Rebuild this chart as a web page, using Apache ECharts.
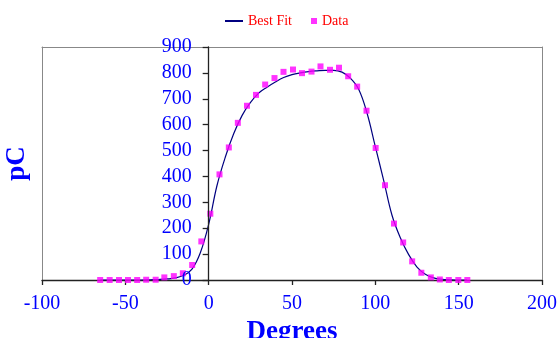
<!DOCTYPE html>
<html>
<head>
<meta charset="utf-8">
<script src="https://cdn.jsdelivr.net/npm/echarts@6/dist/echarts.min.js"></script>
<style>html,body{margin:0;padding:0;background:#fff}#c{width:558px;height:338px}</style>
</head>
<body>
<div id="c"></div>
<script>
// Data points (Degrees, pC)
var dataX = [-65.1,-59.4,-53.8,-48.4,-42.9,-37.5,-31.8,-26.6,-20.9,-15.5,-9.9,-4.4,1.0,6.5,12.1,17.5,23.0,28.4,33.9,39.5,44.9,50.6,56.0,61.7,67.1,72.8,78.2,83.7,89.1,94.7,100.2,105.8,111.2,116.7,122.1,127.6,133.3,138.7,144.1,149.8,155.2];
var dataY = [0,0,0,0,0,1,1,10,15,26,58,149,256,408,512,607,673,715,755,780,804,813,799,805,825,812,820,787,747,654,510,366,218,145,72,28,10,2,0,0,0];
// Best fit curve
var fitX = [-65,-60,-55,-50,-45,-40,-35,-30,-25,-20,-15,-10,-5,0,5,10,15,20,25,30,35,40,45,50,55,60,65,70,75,80,85,90,95,100,105,110,115,120,125,130,135,140,145,150,155];
var fitY = [0,0,0,0,0,0,1,2,4,8,18,42,105,215,365,475,565,635,685,722,745,765,782,793,800,805,808,810,810,803,780,737,645,515,385,250,163,98,50,22,8,3,1,0,0];
var xTicks = {min:-100, max:200, interval:50};
var yTicks = {min:0, max:900, interval:100};

var serif = '"Liberation Serif","DejaVu Serif",serif';
var gridLeft = 42, gridRight = 16;
var plotW = 558 - gridLeft - gridRight;
// offset of the value axis so that it sits on x = 0
var yOff = -plotW * (0 - xTicks.min) / (xTicks.max - xTicks.min);
var frame = {show:true, onZero:false, lineStyle:{color:'#888', width:1}};
var chart = echarts.init(document.getElementById('c'), null, {renderer:'canvas'});
chart.setOption({
  animation:false,
  backgroundColor:'#fff',
  legend:[
    {data:[{name:'Best Fit'}], left:219, top:9, itemWidth:18, itemHeight:2, itemGap:0,
     textStyle:{color:'#ff0000', fontFamily:serif, fontSize:14}},
    {data:[{name:'Data', icon:'rect'}], left:306, top:9, itemWidth:6, itemHeight:6,
     textStyle:{color:'#ff0000', fontFamily:serif, fontSize:14}}
  ],
  grid:{left:gridLeft, right:gridRight, top:47, bottom:58, containLabel:false, outerBoundsMode:'none'},
  xAxis:[{type:'value', min:xTicks.min, max:xTicks.max, interval:xTicks.interval,
    name:'Degrees', nameLocation:'middle', nameGap:36,
    nameTextStyle:{color:'#0000ff', fontFamily:serif, fontSize:27, fontWeight:'bold'},
    axisLine:{show:true, onZero:false, lineStyle:{color:'#222', width:1.3}},
    axisTick:{show:true, inside:false, length:5, lineStyle:{color:'#222', width:1.3}},
    axisLabel:{color:'#0000ff', fontFamily:serif, fontSize:20, margin:14},
    splitLine:{show:false}},
    {type:'value', position:'top', min:xTicks.min, max:xTicks.max, axisLine:frame,
     axisTick:{show:false}, axisLabel:{show:false}, splitLine:{show:false}}],
  yAxis:[{type:'value', min:yTicks.min, max:yTicks.max, interval:yTicks.interval,
    position:'left', offset:yOff, z:5,
    name:'pC', nameLocation:'middle', nameGap:178, nameRotate:90,
    nameTextStyle:{color:'#0000ff', fontFamily:serif, fontSize:27, fontWeight:'bold'},
    axisLine:{show:true, onZero:false, lineStyle:{color:'#222', width:1.3}},
    axisTick:{show:true, inside:false, length:6, lineStyle:{color:'#222', width:1.3}},
    axisLabel:{color:'#0000ff', fontFamily:serif, fontSize:20, margin:17},
    splitLine:{show:false}},
    {type:'value', position:'right', min:yTicks.min, max:yTicks.max, axisLine:frame,
     axisTick:{show:false}, axisLabel:{show:false}, splitLine:{show:false}},
    {type:'value', position:'left', min:yTicks.min, max:yTicks.max, axisLine:frame,
     axisTick:{show:false}, axisLabel:{show:false}, splitLine:{show:false}}],
  series:[
    {name:'Best Fit', type:'line', data:fitX.map(function(x,i){return [x,fitY[i]];}),
     symbol:'none', smooth:0.4, lineStyle:{color:'#000080', width:1.2}, itemStyle:{color:'#000080'}, z:2},
    {name:'Data', type:'scatter', data:dataX.map(function(x,i){return [x,dataY[i]];}),
     symbol:'rect', symbolSize:6, itemStyle:{color:'#ff00ff'}, z:3}
  ]
});
</script>
</body>
</html>
